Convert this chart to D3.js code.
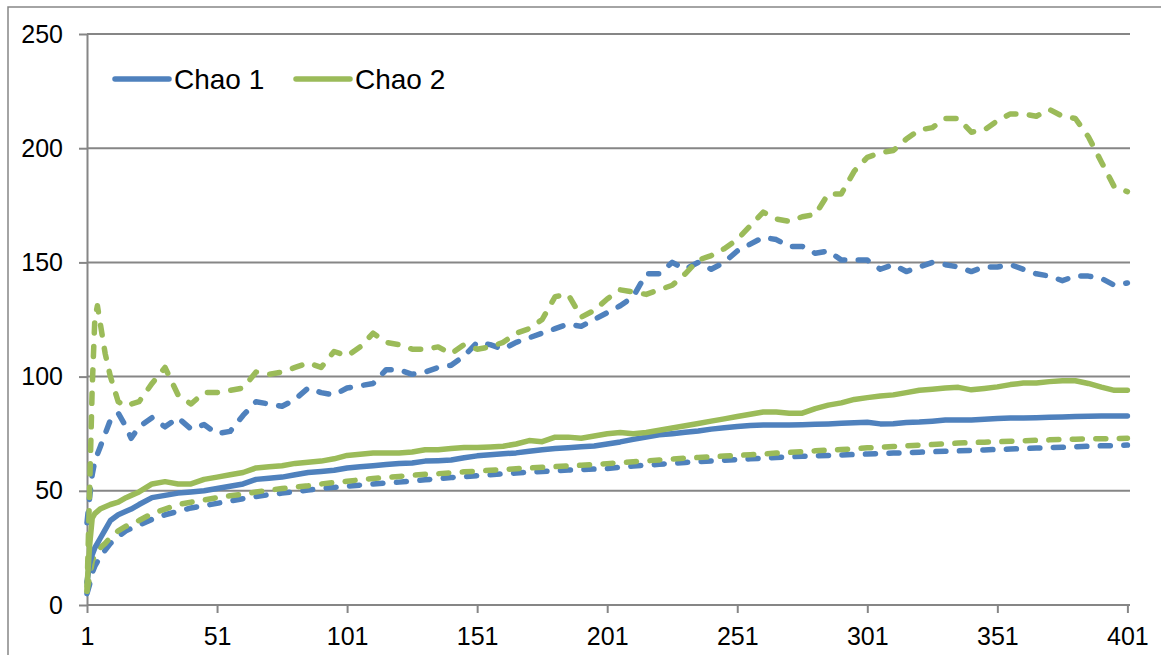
<!DOCTYPE html>
<html>
<head>
<meta charset="utf-8">
<script src="https://cdn.jsdelivr.net/npm/d3@7"></script>
<style>
  body { margin: 0; background: #fff; }
  svg { display: block; font-family: "Liberation Sans", Arial, sans-serif; }
</style>
</head>
<body>
<svg id="chart" width="1161" height="655"></svg>
<script>
// sample positions (sample number)
var samples = [1,2,3,4,5,6,8,10,13,16,18,21,26,31,36,41,46,51,56,61,66,71,76,81,86,91,96,
  101,106,111,116,121,126,131,136,141,146,151,156,161,166,171,176,181,186,191,196,
  201,206,211,216,221,226,231,236,241,246,251,256,261,266,271,276,281,286,291,296,
  301,306,311,316,321,326,331,336,341,346,351,356,361,366,371,376,381,386,391,396,401]

// Chao 1 estimate and its bounds
var chao1 = [10,18,22,25,27,29,33,37,39.5,41,42,44,47,48,49,49.5,50,51,52,53,55,55.5,56,57,58,58.5,59,
  60,60.5,61,61.5,62,62.2,63,63.2,63.5,64.5,65.3,65.8,66.2,66.6,67.3,68,68.5,68.9,69.3,69.6,
  70.5,71.4,72.5,73.5,74.5,75,75.6,76.2,77,77.6,78.2,78.6,78.8,78.8,78.8,78.9,79.1,79.3,79.6,79.8,
  80,79.3,79.4,79.9,80.1,80.5,81,81,81,81.3,81.7,81.9,81.9,82,82.2,82.3,82.5,82.6,82.7,82.7,82.7]
var chao1Hi = [36,47,57,63,66,69,75,81,84,78,73,78,82,78,82,77,79,75,76,83,89,88,87,90,95,93,92,
  95,96,97,103,103,101,102,104,105,109,115,114,112,115,117,119,121,123,122,125,
  128,131,135,145,145,150,147,150,147,150,155,158,161,160,157,157,154,155,151,151,
  151,147,149,146,148,150,149,148,146,148,148,149,147,145,144,142,144,144,143,140,141]
var chao1Lo = [5,9,14,17,19,21,24,27,30,32.5,33.5,35,37.5,39.5,41,42.5,43.5,44.5,45.5,46.5,47.5,48.3,49,49.7,50.3,51,51.5,
  52,52.5,53,53.4,53.8,54.3,54.8,55.3,55.8,56.2,56.6,57,57.4,57.8,58.2,58.5,58.8,59.1,59.3,59.5,
  59.8,60.3,60.8,61.2,61.6,62,62.4,62.8,63.1,63.4,63.7,64,64.3,64.6,64.9,65.1,65.3,65.5,65.7,65.9,
  66.1,66.3,66.5,66.7,66.9,67.1,67.3,67.5,67.7,67.9,68.1,68.3,68.5,68.7,68.9,69.1,69.3,69.5,69.7,69.8,70]

// Chao 2 estimate and its bounds
var chao2 = [8,26,38,40,41,42,43,44,45,47,48,49.5,53,54,53,53,55,56,57,58,60,60.5,61,62,62.5,63,64,
  65.5,66,66.5,66.6,66.6,67,68,68,68.5,69,69,69.2,69.5,70.5,72,71.5,73.5,73.5,73,74,
  75,75.5,75,75.5,76.5,77.5,78.5,79.5,80.5,81.5,82.5,83.5,84.5,84.5,84,84,86,87.5,88.5,90,
  90.8,91.5,92,93,94,94.5,95,95.3,94.2,94.8,95.5,96.5,97.2,97.2,97.8,98.2,98.2,97,95.4,94,94]
var chao2Hi = [6,50,95,125,131,124,110,100,89,87,88,89,97,104,92,88,93,93,94,95,102,101,102,104,106,104,111,
  109,113,119,115,114,112,112,113,110,114,112,113,115,119,121,125,135,136,126,129,
  134,138,137,136,138,140,145,151,153,156,160,166,172,169,168,170,171,180,180,190,
  196,198,199,204,208,209,213,213,207,208,212,215,215,214,217,214,213,205,194,183,181]
var chao2Lo = [6,12,19,22,24,25,27,29.5,32.5,34.5,35.5,37,40,42,44,45,46,47,47.8,48.5,49.5,50.3,51,51.6,52.2,53,53.6,
  54.2,54.8,55.4,55.8,56.3,56.8,57.2,57.5,57.9,58.3,58.6,59,59.3,59.7,60,60.3,60.6,60.9,61.2,61.5,
  61.9,62.3,62.7,63.1,63.5,63.9,64.3,64.6,64.9,65.2,65.5,65.8,66.1,66.5,66.8,67.1,67.5,67.8,68.1,68.4,
  68.8,69.1,69.4,69.7,70,70.3,70.6,70.9,71.1,71.3,71.5,71.7,71.9,72.1,72.3,72.5,72.6,72.7,72.8,72.9,73]

var xTicks = [1,51,101,151,201,251,301,351,401]
var yTicks = [0,50,100,150,200,250]
var legendNames = ["Chao 1", "Chao 2"]

var blue = "#4F81BD", green = "#9BBB59", grey = "#868686"

var svg = d3.select("#chart")

// outer chart border (runs off the right/bottom edge like the original)
svg.append("rect")
    .attr("x", 8).attr("y", 7)
    .attr("width", 1200).attr("height", 700)
    .attr("fill", "none").attr("stroke", grey).attr("stroke-width", 1.5)

var x = d3.scaleLinear().domain([1, 402]).range([87, 1130])
var y = d3.scaleLinear().domain([0, 250]).range([605, 34])

// horizontal gridlines
svg.append("g").selectAll("line")
    .data(yTicks.slice(1))
    .join("line")
    .attr("x1", 87).attr("x2", 1130)
    .attr("y1", d => y(d)).attr("y2", d => y(d))
    .attr("stroke", grey).attr("stroke-width", 2)

// y axis
var yAxis = svg.append("g")
    .attr("transform", "translate(87,0)")
    .call(d3.axisLeft(y).tickValues(yTicks).tickSize(8).tickPadding(16).tickSizeOuter(0))
yAxis.select(".domain").attr("stroke", grey).attr("stroke-width", 2)
yAxis.selectAll(".tick line").attr("stroke", grey).attr("stroke-width", 2)
yAxis.selectAll(".tick text")
    .attr("font-size", 25).attr("fill", "#000")
    .attr("font-family", "Liberation Sans, Arial, sans-serif")

// x axis
var xAxis = svg.append("g")
    .attr("transform", "translate(0,605)")
    .call(d3.axisBottom(x).tickValues(xTicks).tickSize(8).tickPadding(14).tickSizeOuter(0))
xAxis.select(".domain").attr("stroke", grey).attr("stroke-width", 2)
    .attr("d", "M87,0H1130")
xAxis.selectAll(".tick line").attr("stroke", grey).attr("stroke-width", 2)
xAxis.selectAll(".tick text")
    .attr("font-size", 25).attr("fill", "#000")
    .attr("font-family", "Liberation Sans, Arial, sans-serif")

var line = d3.line()
    .x((d, i) => x(samples[i]))
    .y(d => y(d))

var series = [
    {vals: chao1Lo, color: blue, dash: true},
    {vals: chao2Lo, color: green, dash: true},
    {vals: chao1Hi, color: blue, dash: true},
    {vals: chao2Hi, color: green, dash: true},
    {vals: chao1, color: blue, dash: false},
    {vals: chao2, color: green, dash: false}
]

svg.append("g").selectAll("path")
    .data(series)
    .join("path")
    .attr("d", d => line(d.vals))
    .attr("fill", "none")
    .attr("stroke", d => d.color)
    .attr("stroke-width", 5.5)
    .attr("stroke-linecap", "round")
    .attr("stroke-linejoin", "round")
    .attr("stroke-dasharray", d => d.dash ? "10,13.5" : null)

// legend
var legend = svg.append("g")
var legendX = [115, 296]
legendNames.forEach(function(name, i) {
    legend.append("line")
        .attr("x1", legendX[i]).attr("x2", legendX[i] + 54)
        .attr("y1", 79).attr("y2", 79)
        .attr("stroke", i === 0 ? blue : green)
        .attr("stroke-width", 5.5)
        .attr("stroke-linecap", "round")
    legend.append("text")
        .attr("x", legendX[i] + 59).attr("y", 79)
        .attr("dy", "0.35em")
        .attr("font-size", 28)
        .attr("fill", "#000")
        .text(name)
})
</script>
</body>
</html>
